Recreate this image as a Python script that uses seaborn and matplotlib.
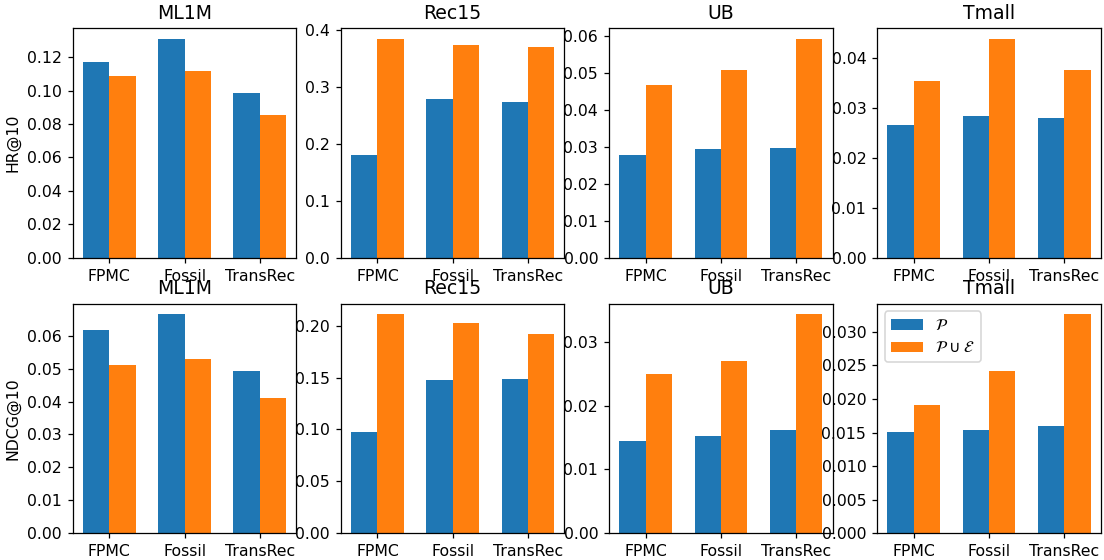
import matplotlib
matplotlib.use("Agg")
import matplotlib.pyplot as plt
import seaborn as sns
import pandas as pd

datasets = ["ML1M", "Rec15", "UB", "Tmall"]
methods = ["FPMC", "Fossil", "TransRec"]
series_names = [r"$\mathcal{P}$", r"$\mathcal{P} \cup \mathcal{E}$"]
metrics = ["HR@10", "NDCG@10"]

# values for FPMC, Fossil, TransRec
hr_ml1m_p = [0.117, 0.131, 0.0985]
hr_ml1m_pe = [0.1087, 0.1117, 0.0855]
hr_rec15_p = [0.181, 0.279, 0.274]
hr_rec15_pe = [0.385, 0.374, 0.370]
hr_ub_p = [0.0279, 0.0293, 0.0298]
hr_ub_pe = [0.0468, 0.0508, 0.0592]
hr_tmall_p = [0.0265, 0.0283, 0.0279]
hr_tmall_pe = [0.0353, 0.0438, 0.0375]

ndcg_ml1m_p = [0.0617, 0.0665, 0.0492]
ndcg_ml1m_pe = [0.0511, 0.0529, 0.0411]
ndcg_rec15_p = [0.098, 0.148, 0.149]
ndcg_rec15_pe = [0.211, 0.203, 0.192]
ndcg_ub_p = [0.0145, 0.0153, 0.0162]
ndcg_ub_pe = [0.0249, 0.0270, 0.0343]
ndcg_tmall_p = [0.0151, 0.0153, 0.0160]
ndcg_tmall_pe = [0.0191, 0.0242, 0.0326]

table = {
    ("HR@10", "ML1M"): (hr_ml1m_p, hr_ml1m_pe),
    ("HR@10", "Rec15"): (hr_rec15_p, hr_rec15_pe),
    ("HR@10", "UB"): (hr_ub_p, hr_ub_pe),
    ("HR@10", "Tmall"): (hr_tmall_p, hr_tmall_pe),
    ("NDCG@10", "ML1M"): (ndcg_ml1m_p, ndcg_ml1m_pe),
    ("NDCG@10", "Rec15"): (ndcg_rec15_p, ndcg_rec15_pe),
    ("NDCG@10", "UB"): (ndcg_ub_p, ndcg_ub_pe),
    ("NDCG@10", "Tmall"): (ndcg_tmall_p, ndcg_tmall_pe),
}

DPI = 113
fig, axes = plt.subplots(2, 4, figsize=(1104 / DPI, 560 / DPI), dpi=DPI)
fig.subplots_adjust(left=0.066, right=0.997, top=0.95, bottom=0.048,
                    wspace=0.2, hspace=0.2)

palette = ["#1f77b4", "#ff7f0e"]

for r, metric in enumerate(metrics):
    for c, ds in enumerate(datasets):
        ax = axes[r, c]
        p_vals, pe_vals = table[(metric, ds)]
        rows = []
        for m, v in zip(methods, p_vals):
            rows.append({"method": m, "set": series_names[0], "value": v})
        for m, v in zip(methods, pe_vals):
            rows.append({"method": m, "set": series_names[1], "value": v})
        df = pd.DataFrame(rows)
        show_legend = (r == 1 and c == 3)
        sns.barplot(data=df, x="method", y="value", hue="set",
                    order=methods, hue_order=series_names,
                    palette=palette, saturation=1, width=0.7,
                    linewidth=0, ax=ax, legend=show_legend)
        ax.set_title(ds, fontsize=12)
        ax.set_xlabel("")
        ax.set_ylabel(metric if c == 0 else "")
        ax.set_xlim(-0.485, 2.485)
        ax.margins(y=0.05)
        ax.set_ylim(bottom=0)
        if show_legend:
            ax.legend(loc="upper left", title=None)

fig.savefig("out.png", dpi=DPI)
